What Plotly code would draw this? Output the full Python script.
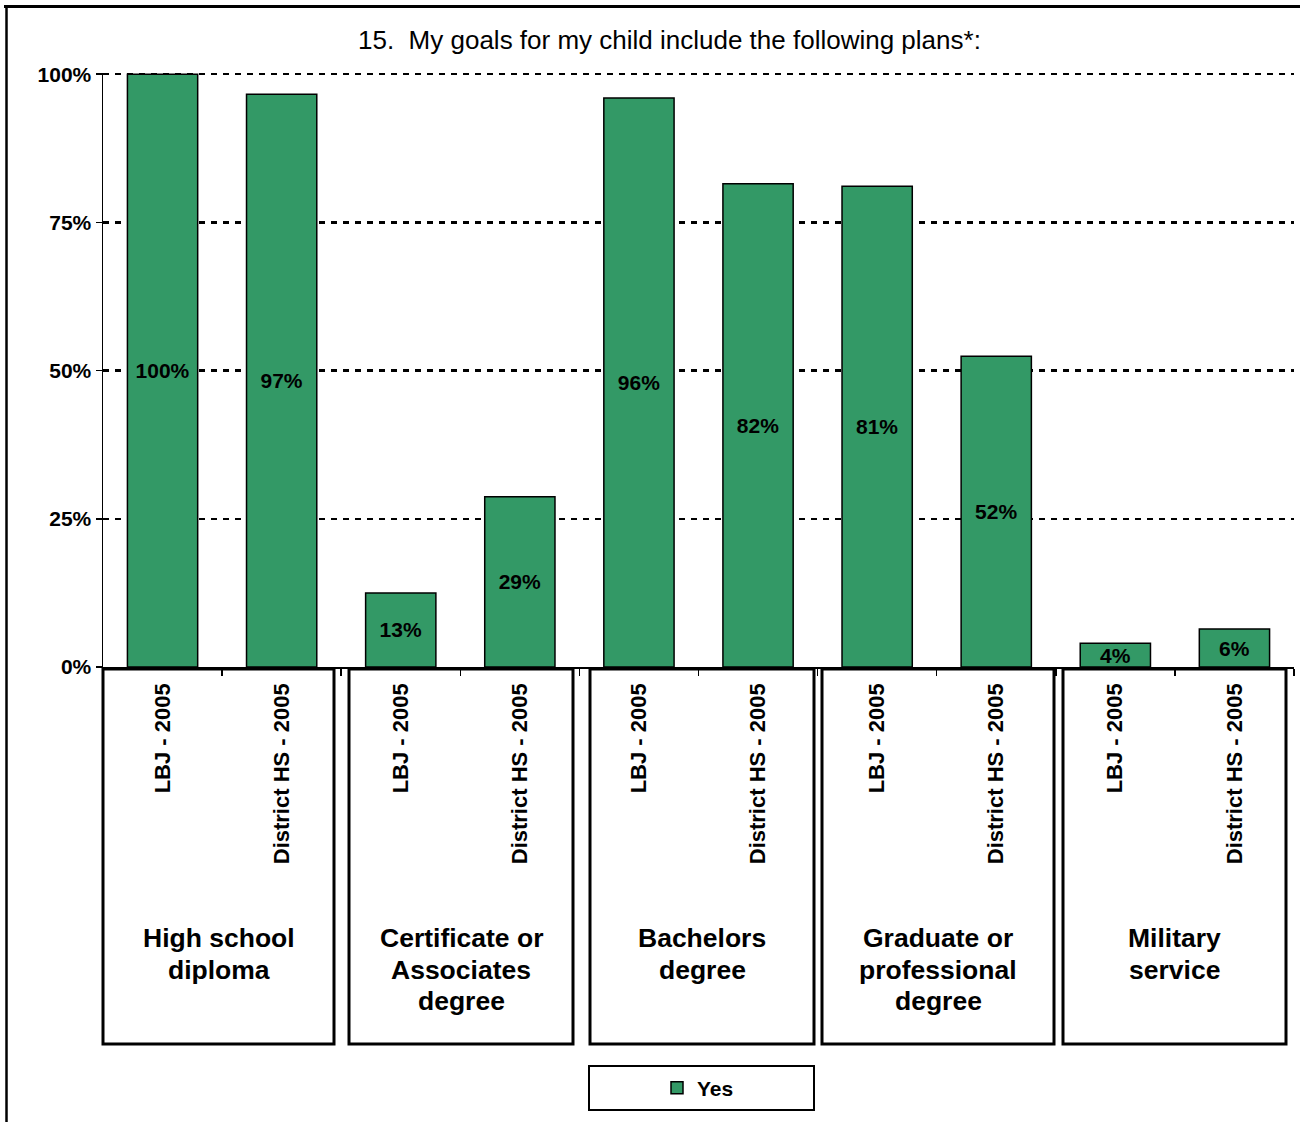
import plotly.graph_objects as go

# ---- data ----
groups = ["High school<br>diploma", "Certificate or<br>Associates<br>degree",
          "Bachelors<br>degree", "Graduate or<br>professional<br>degree",
          "Military<br>service"]
series_labels = ["LBJ - 2005", "District HS - 2005"]
values = [100, 96.6, 12.5, 28.7, 96.0, 81.5, 81.1, 52.4, 4.0, 6.4]
value_text = ["100%", "97%", "13%", "29%", "96%", "82%", "81%", "52%", "4%", "6%"]
y_ticks = [0, 25, 50, 75, 100]
y_tick_text = ["0%", "25%", "50%", "75%", "100%"]
title_text = "15.\u00a0\u00a0My goals for my child include the following plans*:"
legend_name = "Yes"

W, H = 1300, 1122
FONT = "Liberation Sans, Arial, sans-serif"
GREEN = "#339966"

def px(x):
    return x / W

def py(y):
    return 1 - y / H

cat_labels = [series_labels[i % 2] for i in range(len(values))]
xs = list(range(len(values)))

fig = go.Figure()
fig.add_trace(go.Bar(
    x=xs, y=values, name=legend_name,
    width=0.59,
    marker=dict(color=GREEN, line=dict(color="black", width=1.5)),
    text=value_text, textposition="inside", insidetextanchor="middle",
    textangle=0, constraintext="none",
    textfont=dict(family=FONT, size=21, color="black", weight="bold"),
    hoverinfo="skip",
))

fig.update_layout(
    width=W, height=H,
    margin=dict(l=0, r=0, t=0, b=0),
    paper_bgcolor="white", plot_bgcolor="white",
    uniformtext=dict(minsize=21, mode="show"),
    showlegend=True,
    legend=dict(x=px(698), y=py(1088), xanchor="center", yanchor="middle",
                orientation="h", bgcolor="rgba(0,0,0,0)", borderwidth=0,
                font=dict(family=FONT, size=21, color="black", weight="bold")),
)

fig.update_xaxes(
    domain=[px(103), px(1294)],
    range=[-0.5, len(values) - 0.5],
    tickmode="array", tickvals=xs, ticktext=cat_labels,
    tickangle=-90, ticks="", ticklabelstandoff=6,
    tickfont=dict(family=FONT, size=22, color="black", weight="bold"),
    showline=True, linecolor="black", linewidth=1.5,
    showgrid=False, zeroline=False, automargin=False,
    minor=dict(tick0=-0.5, dtick=1, ticks="outside", ticklen=7,
               tickcolor="black", tickwidth=1.5, showgrid=False),
    fixedrange=True,
)
fig.update_yaxes(
    domain=[py(667), py(73)],
    range=[0, 100.2],
    tickmode="array", tickvals=y_ticks, ticktext=y_tick_text,
    ticks="outside", ticklen=6, tickcolor="black", tickwidth=1.5,
    tickfont=dict(family=FONT, size=21, color="black", weight="bold"),
    showline=True, linecolor="black", linewidth=1.5,
    showgrid=True, gridcolor="black", gridwidth=2.5, griddash="6px,6px",
    zeroline=False, automargin=False, fixedrange=True,
)

shapes = []
# outer chart border (top and left)
shapes.append(dict(type="line", xref="paper", yref="paper",
                   x0=px(4), x1=1, y0=py(6.5), y1=py(6.5),
                   line=dict(color="black", width=3)))
shapes.append(dict(type="line", xref="paper", yref="paper",
                   x0=px(6.5), x1=px(6.5), y0=py(5), y1=0,
                   line=dict(color="black", width=2.5)))

# group boxes
box_edges = [(103, 334), (349, 573), (590, 814), (822, 1054), (1063, 1286)]
for (x0, x1) in box_edges:
    shapes.append(dict(type="rect", xref="paper", yref="paper",
                       x0=px(x0), x1=px(x1), y0=py(669), y1=py(1044),
                       line=dict(color="black", width=3),
                       fillcolor="rgba(0,0,0,0)"))
# legend box
shapes.append(dict(type="rect", xref="paper", yref="paper",
                   x0=px(589), x1=px(814), y0=py(1066), y1=py(1110),
                   line=dict(color="black", width=2),
                   fillcolor="rgba(0,0,0,0)"))
fig.update_layout(shapes=shapes)

annotations = []
annotations.append(dict(text=title_text, xref="paper", yref="paper",
                        x=px(670), y=py(40), xanchor="center", yanchor="middle",
                        showarrow=False,
                        font=dict(family=FONT, size=26, color="black")))
for g, (x0, x1) in zip(groups, box_edges):
    for k, line in enumerate(g.split("<br>")):
        annotations.append(dict(text=line, xref="paper", yref="paper",
                                x=px((x0 + x1) / 2), y=py(938 + 31.5 * k),
                                xanchor="center", yanchor="middle",
                                showarrow=False,
                                font=dict(family=FONT, size=26.5, color="black",
                                          weight="bold")))
fig.update_layout(annotations=annotations)

fig.write_html("out.html",
               config={"displayModeBar": False, "staticPlot": True},
               post_script="document.body.style.margin='0';"
                           "document.body.style.overflow='hidden';")
